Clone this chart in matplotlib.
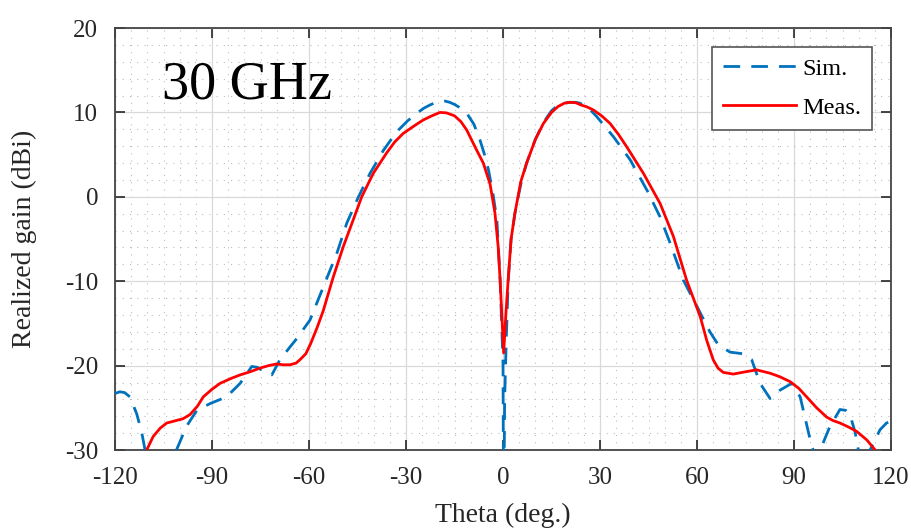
import matplotlib
matplotlib.use("Agg")
import matplotlib.pyplot as plt
from matplotlib.ticker import MultipleLocator

plt.rcParams['font.family'] = ['Liberation Serif', 'DejaVu Serif']

# Simulated realized gain (dBi) vs theta (deg)
sim_theta = [-120, -118.5, -117, -115.4, -113.3, -111.8, -110.7, -108, -104, -101, -97.9, -94.7,
             -90.6, -85.5, -81.3, -77.7, -76, -73.5, -71.5, -69, -65.9, -63.8, -59.7, -55.6,
             -51.4, -48.3, -44.7, -41.1, -37, -32.9, -29.5, -26.7, -24.5, -22.5, -21, -19.5, -18,
             -16.5, -15, -13.5, -11.2, -9, -7.1, -5.8, -4.5, -3.2, -1.9, -0.9, 0.0, 0.2, 0.5, 1.0,
             1.6, 2.5, 3.7, 5.5, 7.3, 10, 12.5, 15, 16.5, 18, 20.5, 22.5, 23.8, 26.5, 29, 34.2,
             39.3, 44.5, 48.6, 51.7, 55.8, 60, 64, 66.5, 70.2, 74.3, 76.9, 79.5, 82.6, 85.7,
             89.3, 91.9, 95.5, 97, 98.1, 101, 104.2, 106, 107.3, 108.9, 109.9, 111.5, 113.5,
             116.6, 118.6, 120]
sim_gain = [-23.3, -23.1, -23.2, -23.7, -25.7, -27.8, -30, -33, -33, -30, -27.2, -25.3,
            -24.5, -23.7, -22.1, -20.1, -20.2, -20.8, -21.1, -19.3, -17.8, -16.8, -14.6, -10.7,
            -6.7, -3.1, 0.0, 2.8, 5.5, 7.7, 9.0, 9.9, 10.5, 10.9, 11.15, 11.3, 11.35,
            11.2, 10.95, 10.6, 9.9, 8.6, 6.7, 5.1, 3.2, 0.6, -2.7, -9.8, -19.7, -40, -24, -17,
            -10, -5, -1.9, 1.5, 4, 6.8, 8.8, 10.2, 10.7, 11.0, 11.2, 11.2, 11.1, 10.5, 9.5, 7.1,
            4.4, 0.8, -2.4, -5.5, -9.9, -13, -16, -17.5, -18.4, -18.6, -19.3, -22.1, -23.9, -22.9,
            -22.1, -23.7, -29.6, -31, -30, -27.3, -25.2, -25.3, -25.8, -27.9, -30, -32, -30,
            -27.6, -26.8, -26.6]

# Measured realized gain (dBi) vs theta (deg)
meas_theta = [-112, -110.2, -108.2, -106, -104, -102, -99, -96.8, -94.5, -92.7, -90, -87.5,
              -84, -81.3, -78, -75.2, -72.5, -70, -68, -65.9, -64, -62.8, -61, -59.5, -57.5,
              -55.6, -52.5, -49.4, -46.3, -43.7, -40.1, -36, -33.5, -30.9, -27.5, -24.7, -22,
              -19.5, -17.5, -15, -13, -11.2, -8.5, -6.1, -4, -2.5, -1.5, -0.9, -0.4, 0.2, 0.9,
              1.6, 2.5, 3.7, 5.5, 7.3, 10, 12.5, 15, 17, 19, 20.7, 22.5, 24, 26, 27.9, 30.5,
              33.1, 35.7, 38.3, 43.4, 48.6, 52.7, 56.8, 61, 63, 65, 66.5, 68.1, 71.2, 74, 78.4,
              82.6, 85.5, 88.8, 91.5, 93.9, 97, 100.1, 102, 104.2, 107, 109.4, 112.5, 115.1, 117]
meas_gain = [-32.5, -30, -28.4, -27.4, -26.8, -26.6, -26.3, -25.8, -24.8, -23.7, -22.8, -22.1,
             -21.5, -21.1, -20.7, -20.3, -20.0, -19.8, -19.9, -19.9, -19.7, -19.3, -18.6, -17.4, -15.5,
             -13.5, -9.5, -5.9, -2.7, 0.0, 2.8, 5.2, 6.5, 7.5, 8.4, 9.1, 9.6,
             10.0, 9.95, 9.6, 8.9, 7.9, 5.8, 4.0, 1.5, -1.9, -5.9, -9.8, -13.8, -18.5, -13.8,
             -9.8, -5, -1.9, 1.8, 4, 6.8, 8.7, 10.0, 10.7, 11.1, 11.2, 11.15, 10.9, 10.65, 10.3, 9.6,
             8.7, 7.4, 5.9, 2.8, -0.8, -4.7, -9.9, -14.2, -17, -19.3, -20.3, -20.8, -21.0, -20.8, -20.5,
             -20.9, -21.3, -21.9, -22.7, -23.7, -25.0, -26.1, -26.5, -26.8, -27.3, -27.8, -28.8, -30, -31.5]

x_ticks = [-120, -90, -60, -30, 0, 30, 60, 90, 120]
y_ticks = [-30, -20, -10, 0, 10, 20]

fig = plt.figure(figsize=(9.12, 5.30), dpi=100)
ax = fig.add_axes([0.1261, 0.1509, 0.8509, 0.7962])

ax.plot(sim_theta, sim_gain, color='#0072BD', lw=2.0, linestyle=(0, (6, 4)), label='Sim.', zorder=3)
ax.plot(meas_theta, meas_gain, color='#FF0000', lw=2.0, label='Meas.', zorder=4)

ax.set_xlim(-120, 120)
ax.set_ylim(-30, 20)
ax.set_xticks(x_ticks)
ax.set_yticks(y_ticks)
ax.set_xticklabels([str(t) for t in x_ticks])
ax.set_yticklabels([str(t) for t in y_ticks])
ax.xaxis.set_minor_locator(MultipleLocator(5))
ax.yaxis.set_minor_locator(MultipleLocator(2))

ax.grid(which='major', color='#d9d9d9', lw=0.9, linestyle='-')
ax.grid(which='minor', color='#bdbdbd', lw=0.8, linestyle=(0, (1, 5.5)))
ax.set_axisbelow(True)

ax.tick_params(which='major', direction='in', length=7, width=1.2, top=True, right=True,
               labelsize=18, colors='#262626', pad=12)
ax.tick_params(which='minor', length=0)
for s in ax.spines.values():
    s.set_color('#444444')
    s.set_linewidth(1.3)

ax.set_xlabel('Theta (deg.)', fontsize=20, color='#262626', labelpad=10)
ax.set_ylabel('Realized gain (dBi)', fontsize=20, color='#262626', labelpad=20)

ax.text(0.170, 0.865, '30 GHz', transform=ax.transAxes, fontsize=39,
        ha='center', va='center', color='black')

leg = ax.legend(loc='upper right', bbox_to_anchor=(0.9755, 0.955), fontsize=17.5,
                handlelength=3.0, frameon=True, fancybox=False, borderpad=0.45,
                labelspacing=0.7, handletextpad=0.25, borderaxespad=0)
leg.get_frame().set_edgecolor('#555555')
leg.get_frame().set_linewidth(1.2)
leg.get_frame().set_alpha(1)

fig.savefig('out.png', dpi=100)
